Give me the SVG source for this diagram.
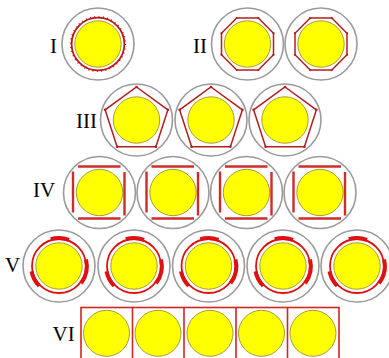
<svg xmlns="http://www.w3.org/2000/svg" xmlns:xlink="http://www.w3.org/1999/xlink" width="389" height="358" viewBox="0 0 389 358">
<style>
.lbl{font-family:"Liberation Serif","Times New Roman",serif;font-size:21px;fill:#000}
.outer{fill:#fff;stroke:#9a9a9a;stroke-width:1.6}
.core{fill:#ffff00;stroke:#a69c3c;stroke-width:1}
.poly{fill:none;stroke:#b41e1e;stroke-width:1.5;stroke-linejoin:miter}
.vtx{fill:#b41e1e}
.bar{stroke:#cc2c2c;stroke-width:2.4}
.ring{fill:none;stroke:#e01010;stroke-width:1.8}
.thick{fill:none;stroke:#e01010;stroke-width:4}
.frame{fill:none;stroke:#d42424;stroke-width:1.6}
</style>
<defs>
<g id="oct">
<polygon class="poly" points="-10.8,-26 10.8,-26 26,-10.8 26,10.8 10.8,26 -10.8,26 -26,10.8 -26,-10.8"/>
<g class="vtx">
<circle cx="-10.8" cy="-26" r="1.1"/><circle cx="10.8" cy="-26" r="1.1"/><circle cx="26" cy="-10.8" r="1.1"/><circle cx="26" cy="10.8" r="1.1"/>
<circle cx="10.8" cy="26" r="1.1"/><circle cx="-10.8" cy="26" r="1.1"/><circle cx="-26" cy="10.8" r="1.1"/><circle cx="-26" cy="-10.8" r="1.1"/>
</g>
</g>
<g id="pent">
<polygon class="poly" points="0,-33 31.4,-10.2 19.4,26.7 -19.4,26.7 -31.4,-10.2"/>
<g class="vtx">
<circle cx="0" cy="-33" r="1.3"/><circle cx="31.4" cy="-10.2" r="1.3"/><circle cx="19.4" cy="26.7" r="1.3"/><circle cx="-19.4" cy="26.7" r="1.3"/><circle cx="-31.4" cy="-10.2" r="1.3"/>
</g>
</g>
<g id="sq">
<line class="bar" x1="-21.5" y1="-26" x2="21" y2="-26"/>
<line class="bar" x1="-21.5" y1="26" x2="21" y2="26"/>
<line class="bar" x1="-26.5" y1="-21" x2="-26.5" y2="20"/>
<line class="bar" x1="25" y1="-20.5" x2="25" y2="23"/>
</g>
<g id="rot">
<circle class="ring" r="27"/>
<path class="thick" d="M -8.2,-26.8 A 28 28 0 0 1 10.0,-26.2"/>
<path class="thick" d="M 27.0,-6.5 A 28 28 0 0 1 22.0,17.3"/>
<path class="thick" d="M -19.8,19.8 A 28 28 0 0 1 -27.5,5.3"/>
</g>
<g id="cell">
<circle class="outer" r="36"/>
<circle class="core" r="23.2"/>
</g>
</defs>

<g id="labels">
<text class="lbl" x="50" y="53">I</text>
<text class="lbl" x="193" y="53">II</text>
<text class="lbl" x="76" y="128">III</text>
<text class="lbl" x="33" y="197">IV</text>
<text class="lbl" x="5" y="272">V</text>
<text class="lbl" x="52.5" y="341">VI</text>
</g>

<g id="row1">
<g id="n1" transform="translate(98,44)">
<use xlink:href="#cell"/>
<circle r="26.4" fill="none" stroke="#c01818" stroke-width="1.8"/>
<circle r="27.3" fill="none" stroke="#c01818" stroke-width="1.6" stroke-dasharray="1 3.3"/>
</g>
</g>

<g id="row2">
<g id="n2a" transform="translate(247.5,44)"><use xlink:href="#cell"/><use xlink:href="#oct"/></g>
<g id="n2b" transform="translate(321,44)"><use xlink:href="#cell"/><use xlink:href="#oct"/></g>
</g>

<g id="row3">
<g id="n3a" transform="translate(136.5,120)"><use xlink:href="#cell"/><use xlink:href="#pent"/></g>
<g id="n3b" transform="translate(211,120)"><use xlink:href="#cell"/><use xlink:href="#pent"/></g>
<g id="n3c" transform="translate(285,120)"><use xlink:href="#cell"/><use xlink:href="#pent"/></g>
</g>

<g id="row4">
<g id="n4a" transform="translate(99.5,192.5)"><use xlink:href="#cell"/><use xlink:href="#sq"/></g>
<g id="n4b" transform="translate(173,192.5)"><use xlink:href="#cell"/><use xlink:href="#sq"/></g>
<g id="n4c" transform="translate(246.5,192.5)"><use xlink:href="#cell"/><use xlink:href="#sq"/></g>
<g id="n4d" transform="translate(320,192.5)"><use xlink:href="#cell"/><use xlink:href="#sq"/></g>
</g>

<g id="row5">
<g id="n5a" transform="translate(59,266)"><use xlink:href="#cell"/><use xlink:href="#rot"/></g>
<g id="n5b" transform="translate(134,266)"><use xlink:href="#cell"/><use xlink:href="#rot"/></g>
<g id="n5c" transform="translate(208.5,266)"><use xlink:href="#cell"/><use xlink:href="#rot"/></g>
<g id="n5d" transform="translate(283,266)"><use xlink:href="#cell"/><use xlink:href="#rot"/></g>
<g id="n5e" transform="translate(357,266)"><use xlink:href="#cell"/><use xlink:href="#rot"/></g>
</g>

<g id="row6">
<rect class="frame" x="81" y="307.5" width="258" height="60"/>
<g id="n6a"><circle class="core" cx="106.5" cy="333.3" r="23"/></g>
<line class="frame" x1="132.5" y1="307.5" x2="132.5" y2="358"/>
<g id="n6b"><circle class="core" cx="158" cy="333.3" r="23"/></g>
<line class="frame" x1="184" y1="307.5" x2="184" y2="358"/>
<g id="n6c"><circle class="core" cx="210" cy="333.3" r="23"/></g>
<line class="frame" x1="236" y1="307.5" x2="236" y2="358"/>
<g id="n6d"><circle class="core" cx="261.5" cy="333.3" r="23"/></g>
<line class="frame" x1="287.5" y1="307.5" x2="287.5" y2="358"/>
<g id="n6e"><circle class="core" cx="313" cy="333.3" r="23"/></g>
</g>
</svg>
